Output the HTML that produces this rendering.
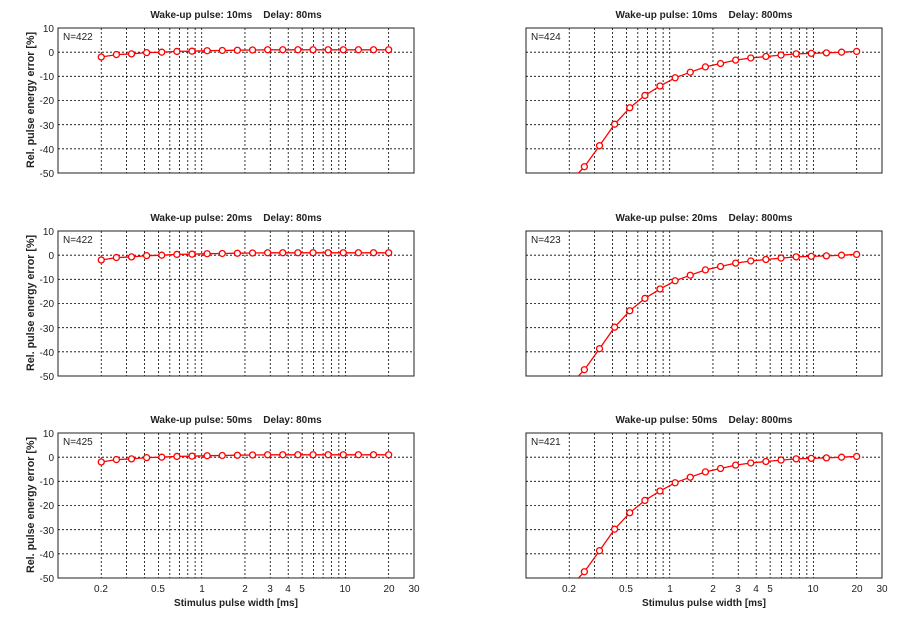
<!DOCTYPE html>
<html><head><meta charset="utf-8"><style>
body{margin:0;background:#fff}
svg text{font-family:"Liberation Sans",Arial,sans-serif;font-size:10px;fill:#222}
.t{font-weight:bold;white-space:pre}
.ya{font-size:10.7px}
.yl text{text-anchor:end}
.xl text{text-anchor:middle}
</style></head><body>
<svg id="s" width="900" height="621" viewBox="0 0 900 621" xmlns="http://www.w3.org/2000/svg">
<g id="g"></g>
<text class="t" x="236" y="18" text-anchor="middle">Wake-up pulse: 10ms    Delay: 80ms</text>
<text class="t" x="704" y="18" text-anchor="middle">Wake-up pulse: 10ms    Delay: 800ms</text>
<text class="t" x="236" y="221" text-anchor="middle">Wake-up pulse: 20ms    Delay: 80ms</text>
<text class="t" x="704" y="221" text-anchor="middle">Wake-up pulse: 20ms    Delay: 800ms</text>
<text class="t" x="236" y="423" text-anchor="middle">Wake-up pulse: 50ms    Delay: 80ms</text>
<text class="t" x="704" y="423" text-anchor="middle">Wake-up pulse: 50ms    Delay: 800ms</text>
<text x="63" y="40">N=422</text><text x="531" y="40">N=424</text>
<text x="63" y="243">N=422</text><text x="531" y="243">N=423</text>
<text x="63" y="445">N=425</text><text x="531" y="445">N=421</text>
<text class="t ya" transform="translate(34,100) rotate(-90)" text-anchor="middle">Rel. pulse energy error [%]</text>
<text class="t ya" transform="translate(34,303) rotate(-90)" text-anchor="middle">Rel. pulse energy error [%]</text>
<text class="t ya" transform="translate(34,505) rotate(-90)" text-anchor="middle">Rel. pulse energy error [%]</text>
<g class="yl">
<text x="54" y="32">10</text><text x="54" y="56">0</text><text x="54" y="80">-10</text><text x="54" y="104">-20</text><text x="54" y="129">-30</text><text x="54" y="153">-40</text><text x="54" y="177">-50</text>
<text x="54" y="235">10</text><text x="54" y="259">0</text><text x="54" y="283">-10</text><text x="54" y="307">-20</text><text x="54" y="332">-30</text><text x="54" y="356">-40</text><text x="54" y="380">-50</text>
<text x="54" y="437">10</text><text x="54" y="461">0</text><text x="54" y="485">-10</text><text x="54" y="509">-20</text><text x="54" y="534">-30</text><text x="54" y="558">-40</text><text x="54" y="582">-50</text>
</g>
<g class="xl">
<text x="101" y="592">0.2</text><text x="158" y="592">0.5</text><text x="202" y="592">1</text><text x="245" y="592">2</text><text x="270" y="592">3</text><text x="288" y="592">4</text><text x="302" y="592">5</text><text x="345" y="592">10</text><text x="389" y="592">20</text><text x="414" y="592">30</text>
<text x="569" y="592">0.2</text><text x="626" y="592">0.5</text><text x="670" y="592">1</text><text x="713" y="592">2</text><text x="738" y="592">3</text><text x="756" y="592">4</text><text x="770" y="592">5</text><text x="813" y="592">10</text><text x="857" y="592">20</text><text x="882" y="592">30</text>
<text class="t" x="236" y="606">Stimulus pulse width [ms]</text>
<text class="t" x="704" y="606">Stimulus pulse width [ms]</text>
</g>
</svg>
<script>
var g=document.getElementById('g'),NS='http://www.w3.org/2000/svg';
function el(n,a){var e=document.createElementNS(NS,n);for(var k in a)e.setAttribute(k,a[k]);g.appendChild(e);return e;}
var L=[-2,-1,-0.7,-0.2,0,0.3,0.4,0.6,0.7,0.8,0.9,1,1,1,1,1,1,1,1,1];
var R=[-54,-47.4,-38.7,-29.8,-23,-17.9,-14,-10.6,-8.3,-6.1,-4.7,-3.3,-2.4,-1.8,-1.2,-0.7,-0.5,-0.3,0,0.3];
var tops=[28,231,433],x0s=[58,526],H=145,W=356,D=143.7;
var grid=[0.2,0.3,0.4,0.5,0.6,0.7,0.8,0.9,1,2,3,4,5,6,7,8,9,10,20];
var cid=0;
tops.forEach(function(top){x0s.forEach(function(x0,ci){
 function X(v){return x0+D*Math.log10(v/0.1);}
 function Y(v){return top+(10-v)*H/60;}
 grid.forEach(function(v){var x=X(v);el('line',{x1:x,x2:x,y1:top,y2:top+H,stroke:'#000','stroke-width':0.8,'stroke-dasharray':'2,2'});});
 for(var k=0;k<6;k++){var y=Y(10-10*(k+1));if(k<5)el('line',{x1:x0,x2:x0+W,y1:y,y2:y,stroke:'#000','stroke-width':0.8,'stroke-dasharray':'2,2'});}
 el('rect',{x:x0,y:top,width:W,height:H,fill:'none',stroke:'#222','stroke-width':1});
 cid++;var c=el('clipPath',{id:'c'+cid});var r=document.createElementNS(NS,'rect');r.setAttribute('x',x0);r.setAttribute('y',top);r.setAttribute('width',W);r.setAttribute('height',H);c.appendChild(r);
 var d=ci?R:L,p='';
 d.forEach(function(v,i){var xv=0.2*Math.pow(100,i/19);p+=(i?'L':'M')+X(xv).toFixed(1)+','+Y(v).toFixed(1);});
 el('path',{d:p,fill:'none',stroke:'#f00','stroke-width':1.3,'clip-path':'url(#c'+cid+')'});
 d.forEach(function(v,i){var xv=0.2*Math.pow(100,i/19);if(v>=-50)el('circle',{cx:X(xv),cy:Y(v),r:3,fill:'#fff',stroke:'#f00','stroke-width':1.3});});
});});
</script>
</body></html>
